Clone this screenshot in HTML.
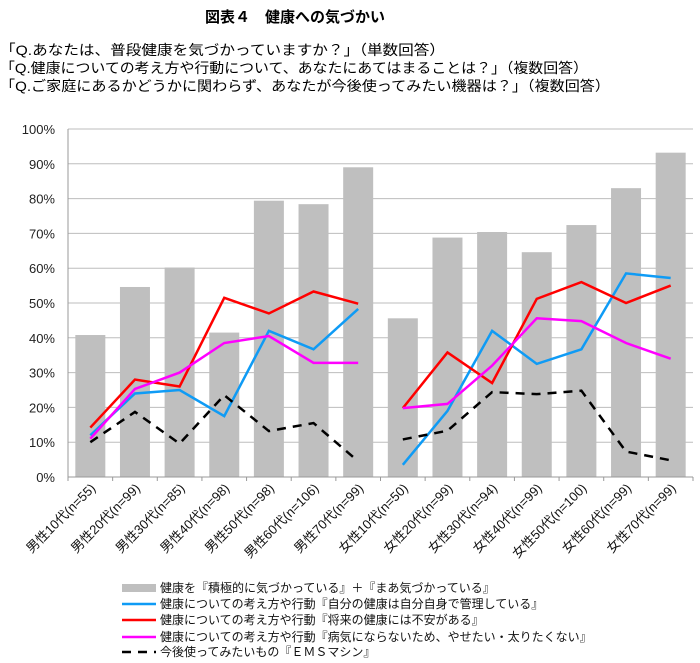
<!DOCTYPE html>
<html><head><meta charset="utf-8"><style>
body{margin:0;background:#fff;}
svg{display:block;font-family:"Liberation Sans","Noto Sans CJK JP",sans-serif;}
</style></head><body>
<svg id="c" width="700" height="663">
<text x="295" y="22" font-size="15" font-weight="bold" text-anchor="middle" textLength="180" lengthAdjust="spacingAndGlyphs">図表４　健康への気づかい</text>
<text x="0" y="55" font-size="14" textLength="445" lengthAdjust="spacingAndGlyphs">「Q.あなたは、普段健康を気づかっていますか？」（単数回答）</text>
<text x="0" y="73" font-size="14" textLength="588" lengthAdjust="spacingAndGlyphs">「Q.健康についての考え方や行動について、あなたにあてはまることは？」（複数回答）</text>
<text x="0" y="91" font-size="14" textLength="610" lengthAdjust="spacingAndGlyphs">「Q.ご家庭にあるかどうかに関わらず、あなたが今後使ってみたい機器は？」（複数回答）</text>
<g id="grid"></g><g id="bars"></g><g id="lines"></g><g id="axes"></g>
<g id="legend"></g>
</svg>
<script>
const categories=["男性10代(n=55)","男性20代(n=99)","男性30代(n=85)","男性40代(n=98)","男性50代(n=98)","男性60代(n=106)","男性70代(n=99)","女性10代(n=50)","女性20代(n=99)","女性30代(n=94)","女性40代(n=99)","女性50代(n=100)","女性60代(n=99)","女性70代(n=99)"];
const barValues=[40.8,54.6,60.2,41.5,79.4,78.4,89,45.6,68.8,70.4,64.6,72.4,83,93.2];
const blueValues=[12,24,25,17.5,42,36.7,48.3,3.5,19,42,32.5,36.7,58.5,57.2];
const redValues=[14.2,28,26,51.5,47,53.3,49.8,19.8,35.8,27,51.2,56,50,55];
const magentaValues=[11,25.3,30,38.5,40.5,32.8,32.8,19.8,21,32,45.6,44.8,38.5,34];
const emsValues=[10,18.7,9.6,23.5,13.2,15.5,4.5,10.8,13.3,24.4,23.8,24.8,7.3,4.8];
const yTicks=[0,10,20,30,40,50,60,70,80,90,100];
const legendLabels=["健康を『積極的に気づかっている』＋『まあ気づかっている』","健康についての考え方や行動『自分の健康は自分自身で管理している』","健康についての考え方や行動『将来の健康には不安がある』","健康についての考え方や行動『病気にならないため、やせたい・太りたくない』","今後使ってみたいもの『ＥＭＳマシン』"];
const NS="http://www.w3.org/2000/svg";
const X0=68,X1=693,Y0=477,Y1=129;
const bw=(X1-X0)/categories.length;
const x=i=>X0+bw*(i+0.5);
const y=v=>Y0-(Y0-Y1)*v/100;
function mk(tag,attrs,parent){const e=document.createElementNS(NS,tag);for(const k in attrs)e.setAttribute(k,attrs[k]);parent.appendChild(e);return e;}
const grid=document.getElementById('grid'),bars=document.getElementById('bars'),lines=document.getElementById('lines'),axes=document.getElementById('axes'),legend=document.getElementById('legend');
yTicks.forEach(t=>{
  if(t>0){const l=mk('line',{x1:X0,x2:X1,y1:y(t),y2:y(t),stroke:'#bdbdbd','stroke-width':1},grid);
  
  }
  const tx=mk('text',{x:X0-13,y:y(t)+5,'font-size':13,'text-anchor':'end',fill:'#222'},axes);
  tx.textContent=t+'%';
  
  
});
mk('line',{x1:X0,x2:X0,y1:Y1,y2:Y0,stroke:'#999'},axes);
mk('line',{x1:X0,x2:X1,y1:Y0,y2:Y0,stroke:'#999'},axes);
for(let i=0;i<=categories.length;i++){mk('line',{x1:X0+bw*i,x2:X0+bw*i,y1:Y0,y2:Y0+4,stroke:'#999'},axes);}
barValues.forEach((v,i)=>{
  const r=mk('rect',{x:x(i)-15,y:y(v),width:30,height:Y0-y(v),fill:'#bfbfbf'},bars);
  
  
});
categories.forEach((c,i)=>{
  const t=mk('text',{x:x(i)+6,y:Y0+12,'font-size':13,'text-anchor':'end',transform:`rotate(-45 ${x(i)+6} ${Y0+12})`,fill:'#111'},axes);
  t.textContent=c;
  
  
});
function series(vals,color,dash,name){
  [[0,7],[7,14]].forEach(([a,b])=>{
    const pts=[];for(let i=a;i<b;i++)pts.push(x(i)+','+y(vals[i]));
    const p=mk('polyline',{points:pts.join(' '),fill:'none',stroke:color,'stroke-width':2.5,'stroke-dasharray':dash||'none'},lines);
    
    
  });
}
series(blueValues,'#0f9bf5',null,'line-self-management');
series(redValues,'#ff0000',null,'line-future-anxiety');
series(magentaValues,'#ff00ff',null,'line-weight-control');
series(emsValues,'#000',"9,7",'line-ems-machine');
const ly=[588,604,620,637,652];
const lc=['#bfbfbf','#0f9bf5','#ff0000','#ff00ff','#000'];
legendLabels.forEach((s,i)=>{
  if(i==0)mk('rect',{x:122,y:ly[i]-4,width:34,height:8,fill:lc[0]},legend);
  else mk('line',{x1:122,x2:156,y1:ly[i],y2:ly[i],stroke:lc[i],'stroke-width':2.5,'stroke-dasharray':i==4?'9,7':'none'},legend);
  const t=mk('text',{x:160,y:ly[i]+4,'font-size':12,fill:'#111'},legend);
  t.textContent=s;
  
  
});
</script>
</body></html>
